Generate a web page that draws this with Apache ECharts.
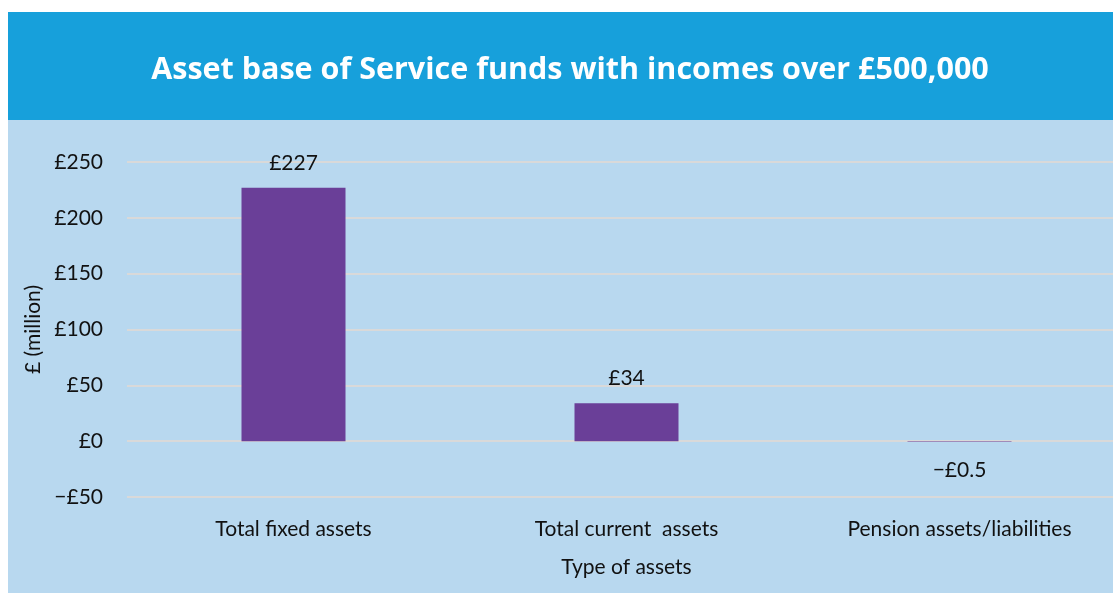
<!DOCTYPE html>
<html>
<head>
<meta charset="utf-8">
<script src="https://cdn.jsdelivr.net/npm/echarts@6/dist/echarts.min.js"></script>
<style>
  html, body { margin: 0; padding: 0; background: #fff; overflow: hidden; }
  #chart { width: 1126px; height: 593px; }
</style>
</head>
<body>
<div id="chart"></div>
<script>
const categories = ['Total fixed assets', 'Total current  assets', 'Pension assets/liabilities']
const values = [227, 34, -0.5]
const valueLabels = ['£227', '£34', '−£0.5']
const yTicks = [-50, 0, 50, 100, 150, 200, 250]

const chart = echarts.init(document.getElementById('chart'))

const fmtMoney = v => (v < 0 ? '−£' + Math.abs(v) : '£' + v)
const font = 'Lato'

const option = {
  backgroundColor: '#ffffff',
  graphic: [
    { type: 'rect', left: 8, top: 12, shape: { width: 1118, height: 581 }, style: { fill: '#b8d8ef' }, z: -10 },
    { type: 'rect', left: 8, top: 12, shape: { width: 1118, height: 108 }, style: { fill: '#17a0db' }, z: -9 }
  ],
  title: {
    text: 'Asset base of Service funds with incomes over £500,000',
    left: 565,
    textAlign: 'center',
    top: 50,
    textStyle: {
      color: '#ffffff',
      fontFamily: 'Open Sans',
      fontWeight: 'bold',
      fontSize: 30.5
    }
  },
  grid: {
    left: 127,
    right: 0,
    top: 162,
    bottom: 96
  },
  xAxis: {
    type: 'category',
    data: categories,
    axisLine: { show: false },
    axisTick: { show: false },
    axisLabel: {
      color: '#111',
      fontFamily: font,
      fontSize: 21,
      margin: 22
    },
    name: 'Type of assets',
    nameLocation: 'middle',
    nameGap: 60,
    nameTextStyle: { color: '#111', fontFamily: font, fontSize: 21 }
  },
  yAxis: {
    type: 'value',
    min: yTicks[0],
    max: yTicks[yTicks.length - 1],
    interval: 50,
    axisLabel: {
      color: '#111',
      fontFamily: font,
      fontSize: 21,
      margin: 24,
      formatter: fmtMoney
    },
    splitLine: { lineStyle: { color: '#d9d9d9', width: 2 } },
    name: '£ (million)',
    nameLocation: 'middle',
    nameGap: 81,
    nameTextStyle: { color: '#111', fontFamily: font, fontSize: 21 }
  },
  series: [{
    type: 'bar',
    data: values,
    barWidth: 104,
    itemStyle: { color: '#6a3f98' },
    label: {
      show: true,
      position: 'top',
      distance: 14,
      color: '#111',
      fontFamily: font,
      fontSize: 21,
      formatter: p => valueLabels[p.dataIndex]
    },
    labelLayout: p => (p.dataIndex === 2
      ? { x: p.rect.x + p.rect.width / 2, y: 460, align: 'center' }
      : {})
  }]
}

chart.setOption(option)
</script>
</body>
</html>
